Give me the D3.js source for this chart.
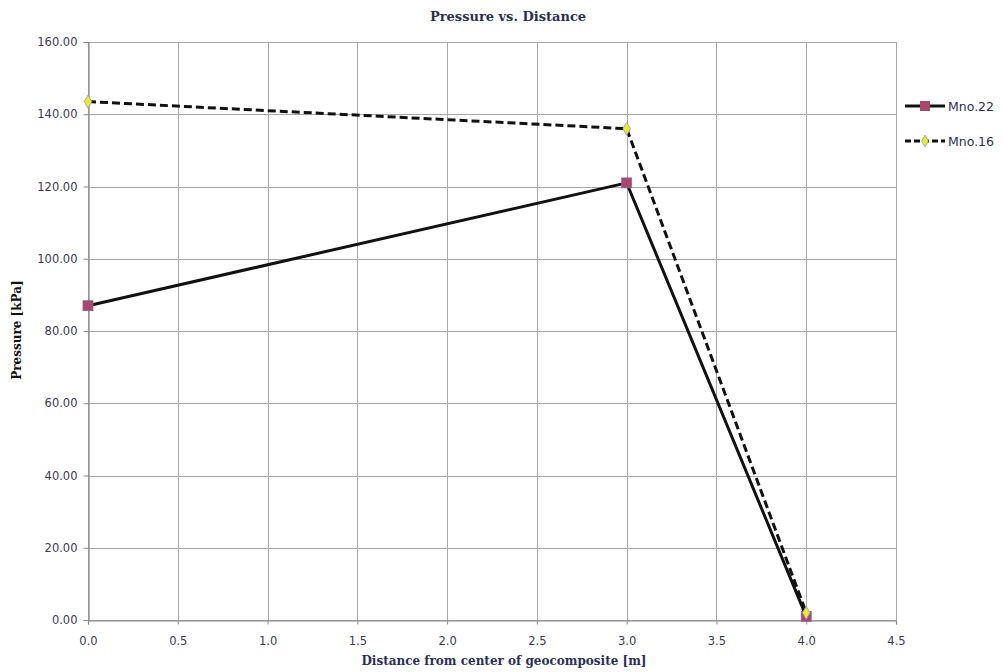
<!DOCTYPE html>
<html>
<head>
<meta charset="utf-8">
<script src="https://cdn.jsdelivr.net/npm/d3@7"></script>
<style>
  html, body { margin: 0; padding: 0; background: #fff; }
  svg { display: block; }
</style>
</head>
<body>
<svg id="chart" width="1003" height="672"></svg>
<script>
// Distance from geocomposite centre (m) and measured pressures (kPa)
const distances = [0.0, 3.0, 4.0];
const mno22 = [87.0, 121.0, 1.0];
const mno16 = [143.5, 136.0, 2.0];
const seriesNames = ["Mno.22", "Mno.16"];
const xTicks = [0, 0.5, 1.0, 1.5, 2.0, 2.5, 3.0, 3.5, 4.0, 4.5];
const yTicks = [0, 20, 40, 60, 80, 100, 120, 140, 160];

const svg = d3.select("#chart");
const margin = { left: 88, right: 107, top: 42, bottom: 52 };
const W = 1003, H = 672;

const x = d3.scaleLinear().domain([0, 4.5]).range([margin.left, W - margin.right]);
const y = d3.scaleLinear().domain([0, 160]).range([H - margin.bottom, margin.top]);

const gridColor = "#a8a8a8";
const labelColor = "#2a2f55";

// gridlines
svg.append("g").selectAll("line.h").data(yTicks).join("line")
  .attr("x1", x(0)).attr("x2", x(4.5))
  .attr("y1", d => Math.round(y(d)) + 0.5).attr("y2", d => Math.round(y(d)) + 0.5)
  .attr("stroke", gridColor).attr("stroke-width", 1);
svg.append("g").selectAll("line.v").data(xTicks).join("line")
  .attr("y1", y(0)).attr("y2", y(160))
  .attr("x1", d => Math.round(x(d)) + 0.5).attr("x2", d => Math.round(x(d)) + 0.5)
  .attr("stroke", gridColor).attr("stroke-width", 1);

// axes
const xAxis = d3.axisBottom(x).tickValues(xTicks).tickFormat(d3.format(".1f")).tickSize(4).tickPadding(12);
const yAxis = d3.axisLeft(y).tickValues(yTicks).tickFormat(d3.format(".2f")).tickSize(5).tickPadding(6);

const gx = svg.append("g").attr("transform", `translate(0,${Math.round(y(0)) + 0.5})`).call(xAxis);
const gy = svg.append("g").attr("transform", `translate(${Math.round(x(0)) + 0.5},0)`).call(yAxis);
[gx, gy].forEach(g => {
  g.select(".domain").attr("stroke", "#888").attr("stroke-width", 1.2);
  g.selectAll(".tick line").attr("stroke", "#888");
  g.selectAll("text").attr("font-family", "DejaVu Sans, Verdana, sans-serif")
    .attr("font-size", 11.5).attr("fill", "#3a3a55");
});

// lines
const line = d3.line().x(d => x(d[0])).y(d => y(d[1]));
const pts22 = distances.map((d, i) => [d, mno22[i]]);
const pts16 = distances.map((d, i) => [d, mno16[i]]);

svg.append("path").datum(pts22).attr("d", line)
  .attr("fill", "none").attr("stroke", "#111").attr("stroke-width", 3);
svg.append("path").datum(pts16).attr("d", line)
  .attr("fill", "none").attr("stroke", "#111").attr("stroke-width", 3)
  .attr("stroke-dasharray", "8,4");

// markers
svg.append("g").selectAll("rect").data(pts22).join("rect")
  .attr("x", d => x(d[0]) - 5).attr("y", d => y(d[1]) - 5)
  .attr("width", 10).attr("height", 10)
  .attr("fill", "#a8466c").attr("stroke", "#8a6a9a").attr("stroke-width", 0.8);
svg.append("g").selectAll("path").data(pts16).join("path")
  .attr("d", d3.symbol(d3.symbolDiamond, 50))
  .attr("transform", d => `translate(${x(d[0])},${y(d[1])})`)
  .attr("fill", "#e6f01a").attr("stroke", "#9a8ad0").attr("stroke-width", 0.8);

// title and axis titles
svg.append("text").attr("x", 508).attr("y", 21).attr("text-anchor", "middle")
  .attr("font-family", "DejaVu Serif, Liberation Serif, serif").attr("font-weight", "bold")
  .attr("font-size", 13).attr("fill", labelColor).text("Pressure vs. Distance");
svg.append("text").attr("x", 504).attr("y", 665).attr("text-anchor", "middle")
  .attr("font-family", "DejaVu Serif, Liberation Serif, serif").attr("font-weight", "bold")
  .attr("font-size", 12).attr("fill", labelColor).text("Distance from center of geocomposite [m]");
svg.append("text").attr("transform", "translate(21,330) rotate(-90)").attr("text-anchor", "middle")
  .attr("font-family", "DejaVu Serif, Liberation Serif, serif").attr("font-weight", "bold")
  .attr("font-size", 12).attr("fill", "#111").text("Pressure [kPa]");

// legend
const legend = svg.append("g");
const legY = [106, 141];
seriesNames.forEach((name, i) => {
  const g = legend.append("g").attr("transform", `translate(905,${legY[i]})`);
  g.append("line").attr("x1", 0).attr("x2", 40).attr("y1", 0).attr("y2", 0)
    .attr("stroke", "#111").attr("stroke-width", 3)
    .attr("stroke-dasharray", i === 1 ? "6,3" : null);
  if (i === 0) {
    g.append("rect").attr("x", 15).attr("y", -5).attr("width", 10).attr("height", 10)
      .attr("fill", "#a8466c");
  } else {
    g.append("path").attr("d", d3.symbol(d3.symbolDiamond, 40))
      .attr("transform", "translate(20,0)").attr("fill", "#e6f01a").attr("stroke", "#9a8ad0").attr("stroke-width", 0.8);
  }
  g.append("text").attr("x", 43).attr("y", 4.5)
    .attr("font-family", "DejaVu Sans, Verdana, sans-serif").attr("font-size", 12.5)
    .attr("fill", "#2a2f55").text(name);
});
</script>
</body>
</html>
